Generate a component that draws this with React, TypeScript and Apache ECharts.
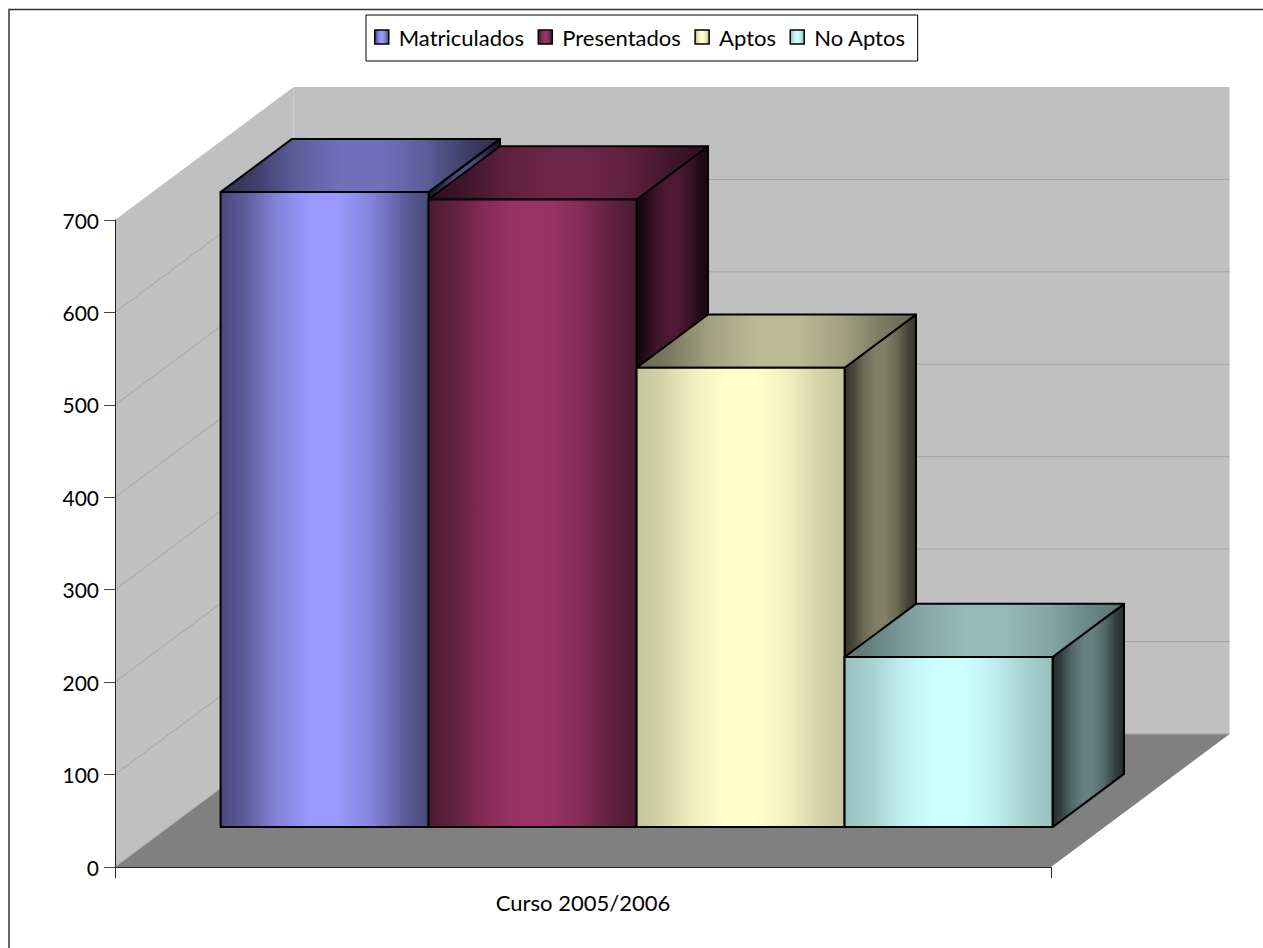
import React, { useEffect, useRef } from "react";
import * as echarts from "echarts";

const categories = ["Curso 2005/2006"];
const seriesNames = ["Matriculados", "Presentados", "Aptos", "No Aptos"];
const matriculados = [687];
const presentados = [679];
const aptos = [497];
const noAptos = [184];
const yTicks = [0, 100, 200, 300, 400, 500, 600, 700];
const baseColors = [[153, 153, 255], [153, 51, 102], [255, 255, 204], [204, 255, 255]];
const frontEdges = [0.48, 0.5, 0.77, 0.75];
const topEdges = [0.3, 0.3, 0.4, 0.45];
const sideEdges = [0.13, 0.13, 0.2, 0.17];

const FONT = "Lato";
const DEPTH_X = 178.6;
const DEPTH_Y = -133;
const FRONT = 0.3;
const BACK = 0.7;

const scale = (rgb: number[], k: number) =>
  `rgb(${Math.round(rgb[0] * k)},${Math.round(rgb[1] * k)},${Math.round(rgb[2] * k)})`;

const shade = (rgb: number[], k: number, edge: number) => {
  const mid = edge + (k - edge) * 0.25;
  const near = edge + (k - edge) * 0.72;
  return new echarts.graphic.LinearGradient(0, 0, 1, 0, [
    { offset: 0, color: scale(rgb, edge) },
    { offset: 0.12, color: scale(rgb, mid) },
    { offset: 0.27, color: scale(rgb, near) },
    { offset: 0.43, color: scale(rgb, k) },
    { offset: 0.57, color: scale(rgb, k) },
    { offset: 0.73, color: scale(rgb, near) },
    { offset: 0.88, color: scale(rgb, mid) },
    { offset: 1, color: scale(rgb, edge) },
  ]);
};

const barSeries = (name: string, values: number[], idx: number) => ({
  type: "custom",
  name,
  silent: true,
  clip: false,
  encode: { x: 0, y: 1 },
  data: values.map((v, i) => [i, v]),
  renderItem: (_p: any, api: any) => {
    const cat = api.value(0);
    const base = api.coord([cat, 0]);
    const top = api.coord([cat, api.value(1)]);
    const band = api.size([1, 0])[0];
    const w = (band * (8 / 9)) / 4;
    const x0 = base[0] - band / 2 + DEPTH_X * FRONT + band / 18 + w * idx;
    const x1 = x0 + w;
    const yb = base[1] + DEPTH_Y * FRONT;
    const yt = top[1] + DEPTH_Y * FRONT;
    const dx = DEPTH_X * (BACK - FRONT);
    const dy = DEPTH_Y * (BACK - FRONT);
    const rgb = baseColors[idx];
    const line = { stroke: "#000", lineWidth: 2, lineJoin: "round" };
    return {
      type: "group",
      children: [
        {
          type: "polygon",
          shape: { points: [[x1, yb], [x1 + dx, yb + dy], [x1 + dx, yt + dy], [x1, yt]] },
          style: { fill: shade(rgb, 0.5, sideEdges[idx]), ...line },
        },
        {
          type: "polygon",
          shape: { points: [[x0, yt], [x1, yt], [x1 + dx, yt + dy], [x0 + dx, yt + dy]] },
          style: { fill: shade(rgb, 0.73, topEdges[idx]), ...line },
        },
        {
          type: "polygon",
          shape: { points: [[x0, yb], [x1, yb], [x1, yt], [x0, yt]] },
          style: { fill: shade(rgb, 1, frontEdges[idx]), ...line },
        },
      ],
    };
  },
});

const wallSeries = {
  type: "custom",
  silent: true,
  clip: false,
  encode: { x: 0, y: 1 },
  data: [[0, yTicks[yTicks.length - 1]]],
  renderItem: (_p: any, api: any) => {
    const o = api.coord([0, 0]);
    const t = api.coord([0, api.value(1)]);
    const band = api.size([1, 0])[0];
    const l = o[0] - band / 2;
    const r = l + band;
    return {
      type: "group",
      children: [
        {
          type: "polygon",
          shape: { points: [[l, o[1]], [l + DEPTH_X, o[1] + DEPTH_Y], [l + DEPTH_X, t[1] + DEPTH_Y], [l, t[1]]] },
          style: { fill: "#c0c0c0" },
        },
        {
          type: "polygon",
          shape: {
            points: [
              [l + DEPTH_X, o[1] + DEPTH_Y],
              [r + DEPTH_X, o[1] + DEPTH_Y],
              [r + DEPTH_X, t[1] + DEPTH_Y],
              [l + DEPTH_X, t[1] + DEPTH_Y],
            ],
          },
          style: { fill: "#c0c0c0" },
        },
        {
          type: "polygon",
          shape: { points: [[l, o[1]], [r, o[1]], [r + DEPTH_X, o[1] + DEPTH_Y], [l + DEPTH_X, o[1] + DEPTH_Y]] },
          style: { fill: "#808080" },
        },
      ],
    };
  },
};

const gridSeries = {
  type: "custom",
  silent: true,
  clip: false,
  encode: { x: 0, y: 1 },
  data: yTicks.slice(0, -1).map((v) => [0, v]),
  renderItem: (_p: any, api: any) => {
    const c = api.coord([0, api.value(1)]);
    const band = api.size([1, 0])[0];
    const l = c[0] - band / 2;
    const yBack = c[1] + DEPTH_Y;
    return {
      type: "polyline",
      shape: { points: [[l, c[1]], [l + DEPTH_X, yBack], [l + DEPTH_X + band, yBack]] },
      style: { stroke: "#a3a3a3", lineWidth: 1, fill: null },
    };
  },
};

export default function App() {
  const ref = useRef<HTMLDivElement>(null);
  useEffect(() => {
    if (!ref.current) return;
    const chart = echarts.init(ref.current, undefined, { renderer: "svg" });
    chart.setOption({
      animation: false,
      backgroundColor: "#ffffff",
      textStyle: { fontFamily: FONT },
      grid: { left: 115, right: 212, top: 220, bottom: 81 },
      legend: {
        left: 366,
        top: 15,
        padding: [11, 12, 13, 8],
        itemGap: 13.5,
        itemWidth: 14,
        itemHeight: 14,
        selectedMode: false,
        backgroundColor: "#ffffff",
        borderColor: "#000000",
        borderWidth: 1,
        textStyle: { fontFamily: FONT, fontSize: 22, color: "#000" },
        data: seriesNames.map((name, i) => ({
          name,
          icon: "rect",
          textStyle: { fontFamily: FONT, fontSize: 22, color: "#000", padding: [0, 0, 0, 5] },
          itemStyle: {
            color: shade(baseColors[i], 1, frontEdges[i]),
            borderColor: "#000",
            borderWidth: 1.5,
          },
        })),
      },
      xAxis: {
        type: "category",
        data: categories,
        z: 10,
        axisLine: { lineStyle: { color: "#222", width: 1 } },
        axisTick: { show: true, length: 11, lineStyle: { color: "#222" } },
        axisLabel: { margin: 24, fontFamily: FONT, fontSize: 22, color: "#000" },
      },
      yAxis: {
        type: "value",
        min: 0,
        max: 700,
        interval: 100,
        z: 10,
        splitLine: { show: false },
        axisLine: { show: true, lineStyle: { color: "#222", width: 1 } },
        axisTick: { show: true, length: 11, lineStyle: { color: "#444" } },
        axisLabel: { margin: 16, fontFamily: FONT, fontSize: 21, color: "#000" },
      },
      graphic: [
        {
          type: "polyline",
          silent: true,
          shape: { points: [[9, 948], [9, 9.5], [1263, 9.5]] },
          style: { stroke: "#333", lineWidth: 1.5, fill: null },
        },
      ],
      series: [
        wallSeries,
        gridSeries,
        barSeries(seriesNames[0], matriculados, 0),
        barSeries(seriesNames[1], presentados, 1),
        barSeries(seriesNames[2], aptos, 2),
        barSeries(seriesNames[3], noAptos, 3),
      ],
    });
    return () => chart.dispose();
  }, []);
  return (
    <div
      ref={ref}
      style={{ position: "absolute", left: 0, top: 0, width: 1263, height: 948, overflow: "hidden" }}
    />
  );
}
